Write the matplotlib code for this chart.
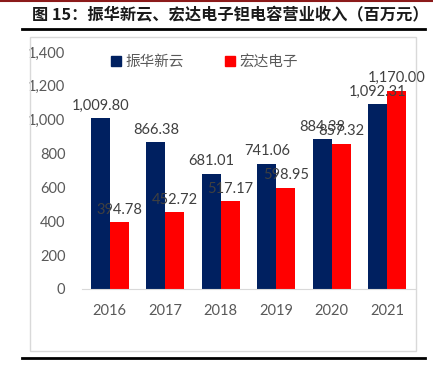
import matplotlib.pyplot as plt
import numpy as np
from matplotlib.patches import Rectangle, Patch
from matplotlib.lines import Line2D

plt.rcParams['font.family'] = ['Lato', 'Noto Sans CJK SC', 'DejaVu Sans']

years = ['2016', '2017', '2018', '2019', '2020', '2021']
zhxy = [1009.80, 866.38, 681.01, 741.06, 884.38, 1092.31]
hdec = [394.78, 452.72, 517.17, 598.95, 857.32, 1170.00]
series_names = ['振华新云', '宏达电子']
title = '图 15：振华新云、宏达电子钽电容营业收入（百万元）'

blue = '#002060'
red = '#FF0000'
grey = '#595959'

W, H = 433, 377
fig = plt.figure(figsize=(W / 100, H / 100), dpi=100)

def fx(px):
    return px / W

def fy(py):
    return 1 - py / H

## page decorations
fig.add_artist(Line2D([0, 1], [fy(0.8), fy(0.8)], color='#8B1A1A', lw=1.5))
fig.add_artist(Line2D([fx(22), fx(425)], [fy(29), fy(29)], color='black', lw=2))
fig.add_artist(Line2D([fx(22), fx(425)], [fy(358), fy(358)], color='black', lw=2))
fig.add_artist(Rectangle((fx(30), fy(351)), fx(416) - fx(30), fy(37) - fy(351),
                         fill=False, edgecolor='#d9d9d9', lw=1))
fig.text(fx(32), fy(15), title, fontsize=11.7, fontweight='bold', color='#1a1a1a',
         va='center', ha='left', family=['Noto Sans CJK SC', 'DejaVu Sans'])

## axes
ax = fig.add_axes([fx(82), fy(289), fx(415) - fx(82), fy(52) - fy(289)])
x = np.arange(len(years))
w = 0.34
b1 = ax.bar(x - w / 2, zhxy, w, color=blue)
b2 = ax.bar(x + w / 2, hdec, w, color=red)

for bars, vals in ((b1, zhxy), (b2, hdec)):
    for rect, v in zip(bars, vals):
        ax.annotate(f'{v:,.2f}', (rect.get_x() + rect.get_width() / 2, v),
                    xytext=(0, 4), textcoords='offset points', ha='center',
                    va='bottom', fontsize=10.5, color='#404040')

ax.set_xlim(-0.5, len(years) - 0.5)
ax.set_ylim(0, 1400)
ax.set_yticks(np.arange(0, 1401, 200))
ax.set_yticklabels([f'{v:,}' for v in range(0, 1401, 200)])
ax.set_xticks(x)
ax.set_xticklabels(years)
ax.tick_params(axis='both', length=0, colors=grey, labelsize=10.5)
ax.tick_params(axis='x', pad=11)
ax.tick_params(axis='y', pad=12)
for s in ['top', 'right', 'left']:
    ax.spines[s].set_visible(False)
ax.spines['bottom'].set_color('#d9d9d9')

handles = [Patch(color=blue), Patch(color=red)]
fig.legend(handles, series_names, loc='center left', ncol=2,
           bbox_to_anchor=(fx(98), fy(62)), frameon=False, fontsize=10.5,
           labelcolor=grey, handlelength=0.7, handleheight=0.7,
           handletextpad=0.3, columnspacing=2.8)

fig.savefig('out.png', dpi=100)
